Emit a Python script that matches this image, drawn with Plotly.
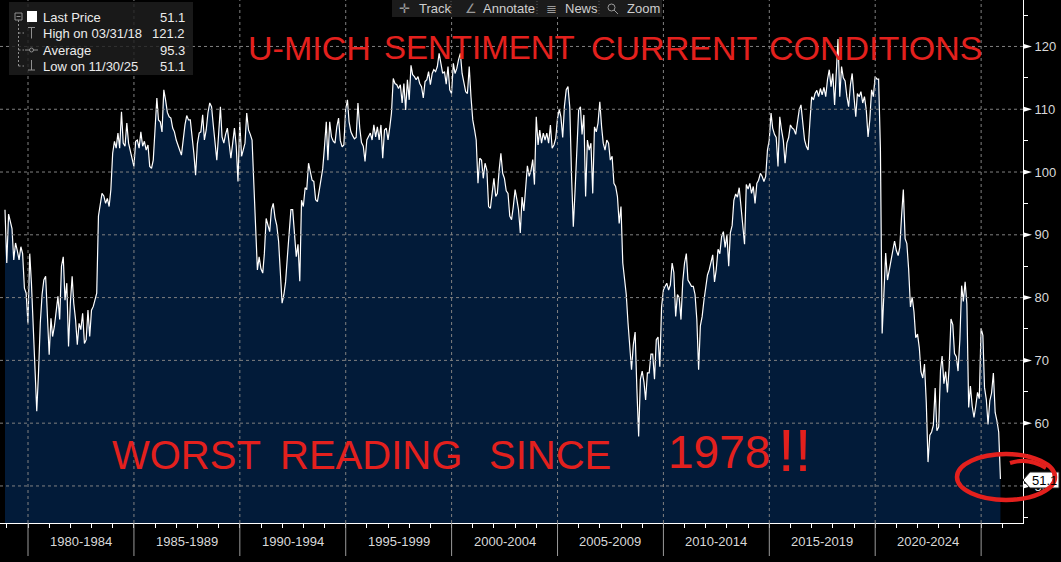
import plotly.graph_objects as go
import pandas as pd

# ---------------- data (monthly, month-end, Nov 1978 .. Nov 2025) ----------------
start_date = "1978-11-30"

vals_1978_1979 = [94.0, 85.5,
                  93.3, 92.0, 91.0, 86.0, 88.7, 87.5, 86.0, 88.1, 87.0, 81.5, 80.7, 75.9]

vals_1980s = [
    87.0, 82.3, 75.0, 67.0, 61.9, 68.0, 76.0, 80.5, 82.8, 83.4, 77.0, 70.9,
    76.7, 73.8, 75.4, 78.0, 80.2, 76.5, 85.0, 86.5, 79.6, 82.3, 72.2, 79.1,
    83.4, 79.1, 76.5, 72.5, 75.9, 74.9, 77.5, 72.7, 73.3, 78.0, 73.8, 78.0,
    78.6, 79.6, 80.7, 93.0, 95.0, 96.6, 96.2, 95.0, 95.8, 94.5, 97.2, 103.0,
    104.9, 103.8, 106.2, 103.8, 109.6, 104.6, 104.1, 107.8, 104.6, 103.5, 102.0, 100.9,
    104.9, 105.1, 103.8, 106.4, 104.1, 104.9, 103.5, 104.3, 100.9, 100.6, 101.9, 106.7,
    111.8, 108.3, 108.0, 106.4, 113.1, 111.5, 109.5, 108.8, 108.6, 107.0, 106.4, 105.1,
    104.1, 103.5, 102.7, 105.6, 107.5, 109.0, 108.3, 108.3, 106.0, 103.0, 99.5, 104.5,
    106.2, 106.4, 109.1, 105.1, 106.7, 109.4, 111.0, 110.4, 107.5, 104.3, 101.9, 106.0,
    110.4, 105.6, 104.6, 106.0, 107.0, 104.6, 102.2, 104.6, 107.0, 104.1, 98.5, 108.0,
]

vals_1990s = [
    102.5, 103.5, 104.6, 109.4, 106.7, 106.0, 105.1, 98.0, 90.0, 84.4, 86.5, 84.6,
    83.9, 87.0, 92.6, 91.5, 90.5, 94.0, 95.0, 92.7, 91.5, 89.0, 83.0, 79.1,
    80.5, 82.5, 86.5, 91.0, 94.0, 94.0, 90.0, 86.5, 88.5, 82.6, 95.5, 94.5,
    97.5, 97.2, 101.4, 100.3, 98.7, 98.5, 95.6, 95.3, 97.0, 98.3, 100.5, 104.0,
    108.0, 101.9, 108.0, 105.6, 104.9, 104.6, 107.2, 108.6, 105.0, 104.0, 104.3, 110.0,
    111.5, 108.0, 106.4, 105.8, 105.3, 105.5, 111.0, 107.0, 104.7, 104.1, 101.7, 105.1,
    105.6, 106.2, 105.1, 107.5, 105.6, 107.2, 105.1, 107.5, 102.2, 106.7, 107.0, 105.1,
    107.2, 109.4, 114.9, 114.1, 113.9, 113.3, 113.9, 111.0, 114.1, 109.9, 114.7, 111.5,
    117.0, 115.5, 115.2, 114.7, 115.2, 114.1, 113.6, 111.8, 114.4, 114.7, 116.0, 113.9,
    115.7, 116.3, 116.0, 116.8, 118.9, 117.3, 115.7, 116.0, 114.0, 116.8, 113.1, 112.5,
]

vals_2000s = [
    117.3, 115.7, 116.5, 117.9, 118.9, 115.7, 113.9, 112.8, 112.5, 116.8, 112.0, 108.3,
    106.7, 105.1, 98.2, 102.2, 101.9, 99.0, 101.4, 100.3, 94.5, 94.2, 96.6, 99.0,
    96.1, 96.6, 100.3, 103.0, 99.8, 99.0, 97.0, 96.6, 93.0, 92.4, 94.5, 97.2,
    95.6, 94.0, 90.3, 96.0, 93.8, 97.5, 101.0, 99.3, 100.2, 102.0, 98.0, 108.8,
    104.3, 106.7, 104.6, 106.2, 105.1, 106.2, 104.6, 107.5, 103.8, 104.3, 105.3, 108.5,
    110.0, 108.8, 105.5, 110.5, 113.1, 113.6, 110.3, 99.3, 91.3, 97.2, 104.1, 109.9,
    110.4, 106.0, 109.1, 96.1, 105.1, 103.5, 104.6, 96.6, 107.2, 106.4, 107.8, 111.2,
    107.2, 104.6, 103.5, 105.1, 104.6, 101.9, 102.5, 98.2, 97.7, 96.1, 91.8, 94.5,
    85.5, 83.5, 80.5, 76.0, 71.5, 68.5, 72.5, 74.5, 65.5, 57.9, 67.0, 68.3,
    66.5, 63.7, 68.0, 68.0, 71.0, 71.0, 67.0, 73.3, 73.7, 69.0, 78.5, 81.2,
]

vals_2010s = [
    81.8, 82.3, 81.2, 82.0, 85.5, 84.0, 77.0, 80.5, 80.0, 76.5, 82.5, 85.5,
    87.0, 82.8, 82.3, 81.8, 81.8, 80.5, 76.5, 68.5, 75.5, 77.0, 79.5, 81.8,
    83.6, 84.4, 85.6, 86.8, 82.5, 84.5, 87.7, 87.0, 89.7, 90.5, 88.0, 90.0,
    85.0, 90.3, 91.5, 95.5, 96.5, 96.0, 97.5, 94.5, 92.0, 88.5, 98.0, 97.3,
    98.2, 96.6, 97.7, 95.0, 98.2, 98.7, 99.8, 99.3, 98.5, 99.3, 103.5, 105.1,
    109.4, 107.0, 106.0, 105.5, 100.9, 108.8, 106.7, 105.0, 101.4, 104.6, 105.5, 107.5,
    107.0, 106.8, 106.0, 108.0, 109.9, 110.7, 108.3, 105.1, 104.1, 103.5, 107.8, 112.0,
    111.5, 112.5, 113.0, 112.0, 113.3, 112.3, 113.5, 112.0, 114.7, 116.3, 113.6, 115.7,
    110.7, 115.7, 121.2, 112.0, 116.8, 115.0, 114.5, 112.0, 110.4, 113.9, 115.7, 112.0,
    108.8, 112.5, 112.0, 112.8, 111.0, 112.0, 109.9, 105.6, 108.3, 113.1, 112.0, 115.2,
]

vals_2020s = [
    114.8, 114.8, 103.7, 74.3, 82.3, 87.1, 82.8, 84.5, 86.5, 87.5, 89.0, 87.5,
    86.7, 88.0, 93.0, 97.2, 89.4, 88.6, 84.5, 78.5, 80.1, 77.7, 73.6, 74.2,
    72.0, 68.2, 67.2, 69.4, 63.3, 53.8, 58.1, 58.6, 59.7, 65.6, 58.8, 59.4,
    68.4, 70.7, 66.3, 68.2, 64.9, 69.0, 76.6, 75.7, 71.1, 70.6, 68.3, 73.3,
    81.9, 79.4, 82.5, 79.0, 62.5, 65.9, 62.7, 60.9, 62.7, 64.9, 63.9, 75.1,
    74.0, 65.7, 63.8, 59.8, 63.6, 64.8, 68.0, 61.7, 60.4, 58.6, 51.1,
]

band_starts = [1980, 1985, 1990, 1995, 2000, 2005, 2010, 2015, 2020]
band_labels = ["1980-1984", "1985-1989", "1990-1994", "1995-1999", "2000-2004",
               "2005-2009", "2010-2014", "2015-2019", "2020-2024"]
divider_years = [1980, 1985, 1990, 1995, 2000, 2005, 2010, 2015, 2020, 2025]
y_major = [50, 60, 70, 80, 90, 100, 110, 120]

legend_labels = ["Last Price", "High on 03/31/18", "Average", "Low on 11/30/25"]
legend_values = ["51.1", "121.2", "95.3", "51.1"]
last_value_text = "51.1"

title_words = ["U-MICH", "SENTIMENT", "CURRENT", "CONDITIONS"]
note_words = ["WORST", "READING", "SINCE", "1978", "!!"]

# ---------------- build series ----------------
values = vals_1978_1979 + vals_1980s + vals_1990s + vals_2000s + vals_2010s + vals_2020s
try:
    dates = pd.date_range(start_date, periods=len(values), freq="ME")
except Exception:
    dates = pd.date_range(start_date, periods=len(values), freq="M")

# ---------------- geometry helpers ----------------
W, H = 1061, 562
ML, MR, MT, MB = 0, 38, 0, 39
PW, PH = W - ML - MR, H - MT - MB


def px(x):
    return (x - ML) / PW


def py(y):
    return 1 - (y - MT) / PH


GRID = "#808080"
TXT = "#d9d9d9"
RED = "#e3201d"
FONT = "Liberation Sans, Arial, sans-serif"
HAND = "Liberation Sans, Arial, sans-serif"

fig = go.Figure()
fig.add_trace(go.Scatter(
    x=dates, y=values, mode="lines",
    line=dict(color="white", width=1.2),
    fill="tozeroy", fillcolor="#021b39",
    hoverinfo="skip", showlegend=False,
))

shapes = []
# gridlines (drawn above the area fill)
for v in y_major:
    shapes.append(dict(type="line", xref="paper", yref="y", x0=0, x1=1, y0=v, y1=v,
                       line=dict(color=GRID, width=1, dash="3px,3px"), layer="above"))
for yr in divider_years:
    d = f"{yr}-01-01"
    shapes.append(dict(type="line", xref="x", yref="paper", x0=d, x1=d, y0=0, y1=1,
                       line=dict(color=GRID, width=1, dash="3px,3px"), layer="above"))
    # band dividers below the axis
    shapes.append(dict(type="line", xref="x", yref="paper", x0=d, x1=d, y0=0, y1=py(556),
                       line=dict(color="#9a9a9a", width=1), layer="above"))
# right-axis triangle tick markers
for v in y_major:
    shapes.append(dict(type="path", xref="paper", yref="y",
                       path=f"M 1,{v - 0.42} L 1,{v + 0.42} L {px(1032)},{v} Z",
                       fillcolor="white", line=dict(width=0), layer="above"))

# legend box
shapes.append(dict(type="rect", xref="paper", yref="paper", x0=px(9), x1=px(193),
                   y0=py(75), y1=py(2), fillcolor="rgba(30,30,30,0.82)",
                   line=dict(width=0), layer="above"))
shapes.append(dict(type="rect", xref="paper", yref="paper", x0=px(27), x1=px(37),
                   y0=py(22), y1=py(11), fillcolor="white", line=dict(width=0), layer="above"))
TREE = "#8f8f8f"


def seg(x0, y0, x1, y1, dash="solid", color=TREE):
    return dict(type="line", xref="paper", yref="paper", x0=px(x0), x1=px(x1),
                y0=py(y0), y1=py(y1), line=dict(color=color, width=1, dash=dash), layer="above")


shapes.append(dict(type="rect", xref="paper", yref="paper", x0=px(15), x1=px(22),
                   y0=py(20), y1=py(13), line=dict(color=TREE, width=1), layer="above"))
shapes.append(seg(16.5, 16.5, 20.5, 16.5))
shapes.append(seg(18.5, 20, 18.5, 66, dash="2px,2px"))
for yy in (33, 50, 66):
    shapes.append(seg(18.5, yy, 24, yy, dash="2px,2px"))
shapes.append(seg(28, 27.5, 35, 27.5))
shapes.append(seg(31.5, 27.5, 31.5, 38.5))
shapes.append(seg(25, 50, 38, 50))
shapes.append(dict(type="circle", xref="paper", yref="paper", x0=px(29.5), x1=px(33.5),
                   y0=py(52), y1=py(48), line=dict(color=TREE, width=1),
                   fillcolor="#202020", layer="above"))
shapes.append(seg(31.5, 60, 31.5, 70))
shapes.append(seg(28, 70, 35, 70))

# toolbar
shapes.append(dict(type="rect", xref="paper", yref="paper", x0=px(392), x1=px(662),
                   y0=py(17), y1=py(0), fillcolor="#1b1b1b", line=dict(width=0), layer="above"))
for sx in (451, 537, 599):
    shapes.append(seg(sx, 1, sx, 16, dash="1px,2px", color="#5a5a5a"))
shapes.append(dict(type="circle", xref="paper", yref="paper", x0=px(608), x1=px(615),
                   y0=py(11), y1=py(4), line=dict(color="#9a9a9a", width=1), layer="above"))
shapes.append(seg(614, 10, 618, 14, color="#9a9a9a"))

# last-price tag
shapes.append(dict(type="path", xref="paper", yref="paper",
                   path=(f"M {px(1023)},{py(480)} L {px(1030)},{py(472)} L {px(1059)},{py(472)} "
                         f"L {px(1059)},{py(488)} L {px(1030)},{py(488)} Z"),
                   fillcolor="white", line=dict(color="#222", width=1), layer="above"))

# red hand-drawn ellipse
shapes.append(dict(type="circle", xref="paper", yref="paper", x0=px(957), x1=px(1055),
                   y0=py(500), y1=py(454), line=dict(color=RED, width=4.5), layer="above"))
shapes.append(dict(type="path", xref="paper", yref="paper",
                   path=f"M {px(1010)},{py(463)} Q {px(1028)},{py(457)} {px(1046)},{py(468)}",
                   line=dict(color=RED, width=4), layer="above"))

annotations = []
# band labels
for yr, lab in zip(band_starts, band_labels):
    annotations.append(dict(x=f"{yr + 2}-07-02", y=py(541), xref="x", yref="paper",
                            xanchor="center", yanchor="middle",
                            text=lab, showarrow=False, font=dict(family=FONT, size=13, color=TXT)))
# legend texts
for i, (lab, val) in enumerate(zip(legend_labels, legend_values)):
    yy = [17, 33.5, 50, 66][i]
    annotations.append(dict(x=px(41), y=py(yy), xref="paper", yref="paper", xanchor="left",
                            yanchor="middle", text=lab, showarrow=False,
                            font=dict(family=FONT, size=13, color="#ececec")))
    annotations.append(dict(x=px(187), y=py(yy), xref="paper", yref="paper", xanchor="right",
                            yanchor="middle", text=val, showarrow=False,
                            font=dict(family=FONT, size=13, color="#ececec")))
# toolbar texts
for xx, t, c in [(397, "\u271b", "#9a9a9a"), (417, "Track", "#cfcfcf"),
                 (463, "\u2220", "#9a9a9a"), (481, "Annotate", "#cfcfcf"),
                 (544, "\u2263", "#9a9a9a"), (563, "News", "#cfcfcf"),
                 (625, "Zoom", "#cfcfcf")]:
    annotations.append(dict(x=px(xx), y=py(8.5), xref="paper", yref="paper", xanchor="left",
                            yanchor="middle", text=t, showarrow=False,
                            font=dict(family=FONT, size=13, color=c)))
# last value tag text
annotations.append(dict(x=px(1044), y=py(480), xref="paper", yref="paper", xanchor="center",
                        yanchor="middle", text=last_value_text, showarrow=False,
                        font=dict(family=FONT, size=13, color="black")))
# red handwritten title
for w, cx, sz in zip(title_words, [309, 479, 674, 875], [34, 33, 34, 34]):
    annotations.append(dict(x=px(cx), y=py(48), xref="paper", yref="paper", text=w,
                            xanchor="center", yanchor="middle",
                            showarrow=False, font=dict(family=HAND, size=sz, color=RED)))
for w, cx, cy, sz in zip(note_words, [186, 371, 550, 719, 794],
                         [455, 455, 455, 452, 450], [40, 40, 40, 46, 60]):
    annotations.append(dict(x=px(cx), y=py(cy), xref="paper", yref="paper", text=w,
                            xanchor="center", yanchor="middle",
                            showarrow=False, font=dict(family=HAND, size=sz, color=RED)))

fig.update_layout(
    width=W, height=H, autosize=False,
    margin=dict(l=ML, r=MR, t=MT, b=MB, pad=0),
    paper_bgcolor="black", plot_bgcolor="black",
    showlegend=False,
    xaxis=dict(type="date", range=["1978-09-05", "2026-12-24"], showgrid=False,
               zeroline=False, showline=True, linecolor="white", linewidth=1,
               ticks="outside", ticklen=4, tickcolor="white", tickwidth=1,
               dtick="M12", tick0="1980-01-01", showticklabels=False, fixedrange=True),
    yaxis=dict(side="right", range=[44.1, 127.4], tickmode="array", tickvals=y_major,
               showgrid=False, zeroline=False, showline=True, linecolor="white", linewidth=1,
               ticks="outside", ticklen=8, tickcolor="rgba(0,0,0,0)",
               tickfont=dict(family=FONT, size=13, color=TXT),
               minor=dict(tickmode="array", tickvals=[45, 55, 65, 75, 85, 95, 105, 115, 125],
                          ticks="outside", ticklen=4, tickcolor="white"),
               fixedrange=True),
    shapes=shapes,
    annotations=annotations,
)

fig.write_html("out.html", config={"displayModeBar": False},
               post_script="document.body.style.margin='0';document.body.style.background='#000';")
